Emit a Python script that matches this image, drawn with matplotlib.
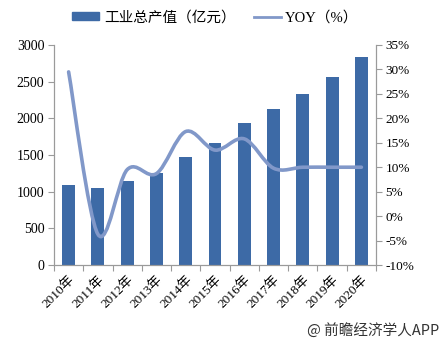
import matplotlib.pyplot as plt
from matplotlib.path import Path
from matplotlib.patches import PathPatch, Patch
from matplotlib.lines import Line2D
from matplotlib.ticker import MultipleLocator, FuncFormatter

plt.rcParams['font.family'] = ['Liberation Serif', 'Noto Sans CJK SC']

years = ['2010年', '2011年', '2012年', '2013年', '2014年', '2015年',
         '2016年', '2017年', '2018年', '2019年', '2020年']
output = [1090, 1050, 1150, 1250, 1470, 1660, 1930, 2130, 2330, 2570, 2830]
yoy = [29.5, -3.7, 9.5, 8.7, 17.3, 13.5, 15.8, 9.8, 10, 10, 10]

bar_color = '#3D6AA6'
line_color = '#8198C9'
axis_color = '#9A9A9A'


def smooth_path(xs, ys):
    # Catmull-Rom style smoothing turned into cubic Bezier segments
    pts = list(zip(xs, ys))
    verts = [pts[0]]
    codes = [Path.MOVETO]
    n = len(pts)
    for i in range(n - 1):
        p0 = pts[i - 1] if i > 0 else pts[i]
        p1 = pts[i]
        p2 = pts[i + 1]
        p3 = pts[i + 2] if i + 2 < n else pts[i + 1]
        c1 = (p1[0] + (p2[0] - p0[0]) / 6, p1[1] + (p2[1] - p0[1]) / 6)
        c2 = (p2[0] - (p3[0] - p1[0]) / 6, p2[1] - (p3[1] - p1[1]) / 6)
        verts += [c1, c2, p2]
        codes += [Path.CURVE4] * 3
    return Path(verts, codes)


fig = plt.figure(figsize=(4.45, 3.48), dpi=100)
ax = fig.add_axes([0.1213, 0.2385, 0.7237, 0.6322])
ax2 = ax.twinx()

x = list(range(len(years)))
ax.bar(x, output, width=0.44, color=bar_color, zorder=2)
ax.set_xlim(-0.5, len(years) - 0.5)
ax.set_ylim(0, 3000)
ax.yaxis.set_major_locator(MultipleLocator(500))

ax2.set_ylim(-10, 35)
ax2.yaxis.set_major_locator(MultipleLocator(5))
ax2.yaxis.set_major_formatter(FuncFormatter(lambda v, p: '%d%%' % v))
ax2.add_patch(PathPatch(smooth_path(x, yoy), facecolor='none',
                        edgecolor=line_color, lw=2.6, capstyle='round',
                        zorder=3))

ax.set_xticks([i - 0.5 for i in range(len(years) + 1)])
ax.set_xticklabels([])
ax.set_xticks(x, minor=True)
ax.set_xticklabels(years, minor=True, rotation=45, ha='right',
                   rotation_mode='anchor', fontsize=9.5)
ax.tick_params(axis='x', which='minor', length=0, pad=6)
ax.tick_params(axis='x', which='major', length=4, color=axis_color)
ax.tick_params(axis='y', length=4, color=axis_color, labelsize=10, pad=3)
ax2.tick_params(axis='y', length=4, color=axis_color, labelsize=9.5, pad=3)

for a in (ax, ax2):
    a.spines['top'].set_visible(False)
    for s in ('left', 'right', 'bottom'):
        a.spines[s].set_color(axis_color)
        a.spines[s].set_linewidth(0.8)

handles = [Patch(color=bar_color),
           Line2D([], [], color=line_color, lw=2)]
fig.legend(handles, ['工业总产值（亿元）', 'YOY（%）'], loc='center',
           bbox_to_anchor=(0.484, 0.95), ncol=2, frameon=False,
           fontsize=10.5, handlelength=1.85, handleheight=0.45,
           columnspacing=1.25, handletextpad=0.3)

fig.text(0.988, 0.052, '@ 前瞻经济学人APP', ha='right', va='center',
         fontsize=10.5, color='#333333', family=['Noto Sans CJK SC'])

fig.savefig('out.png', dpi=100)
